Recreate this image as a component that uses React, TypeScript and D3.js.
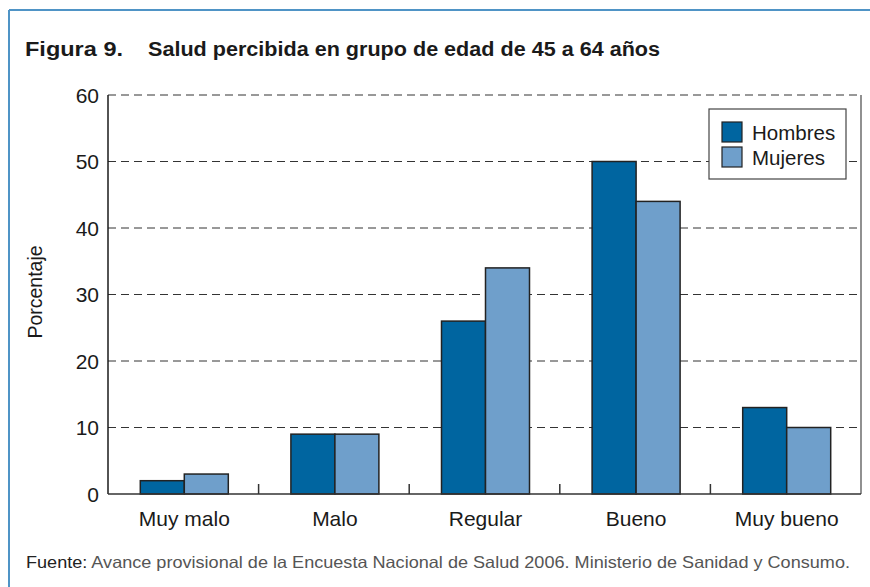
import React from "react";
import * as d3 from "d3";

const categories = ["Muy malo", "Malo", "Regular", "Bueno", "Muy bueno"];
const seriesNames = ["Hombres", "Mujeres"];
const hombres = [2, 9, 26, 50, 13];
const mujeres = [3, 9, 34, 44, 10];
const yTicks = [0, 10, 20, 30, 40, 50, 60];
const colors = ["#0065a0", "#6f9fcb"];

const W = 870, H = 587;
const m = { left: 108, right: 861, top: 95, bottom: 494 };

export default function App() {
  const x = d3.scaleBand<string>().domain(categories).range([m.left, m.right]).padding(0);
  const y = d3.scaleLinear().domain([0, 60]).range([m.bottom, m.top]);
  const bw = 44;
  const series = [hombres, mujeres];
  const font = "Liberation Sans, Arial, Helvetica, sans-serif";
  return (
    <svg width={W} height={H} style={{ position: "absolute", left: 0, top: 0, display: "block", background: "#fff" }} fontFamily={font}>
      {/* frame */}
      <line x1={9} y1={10} x2={W} y2={10} stroke="#4f94c6" strokeWidth={2} />
      <line x1={9} y1={10} x2={9} y2={H} stroke="#4f94c6" strokeWidth={2} />
      {/* title */}
      <text x={25} y={56} fontSize={20} fontWeight={900} fill="#1a1a1a" textLength={98} lengthAdjust="spacingAndGlyphs">Figura 9.</text>
      <text x={148} y={56} fontSize={19.5} fontWeight={700} fill="#1a1a1a" textLength={512} lengthAdjust="spacingAndGlyphs">Salud percibida en grupo de edad de 45 a 64 años</text>
      {/* gridlines */}
      {yTicks.filter(t => t > 0).map(t => (
        <line key={t} x1={m.left} x2={m.right} y1={y(t)} y2={y(t)} stroke="#333" strokeWidth={1} strokeDasharray="8,5" />
      ))}
      {/* right border */}
      <line x1={m.right} x2={m.right} y1={m.top} y2={m.bottom} stroke="#555" strokeWidth={1.3} />
      {/* bars */}
      {categories.map((c, i) => {
        const cx = (x(c) as number) + x.bandwidth() / 2 + 1;
        return series.map((s, j) => (
          <rect key={c + j} x={cx - bw + j * bw} y={y(s[i])} width={bw} height={y(0) - y(s[i])}
            fill={colors[j]} stroke="#222" strokeWidth={1.5} />
        ));
      })}
      {/* axes */}
      <line x1={m.left} x2={m.left} y1={m.top} y2={m.bottom} stroke="#1a1a1a" strokeWidth={1.5} />
      <line x1={m.left} x2={m.right} y1={m.bottom} y2={m.bottom} stroke="#333" strokeWidth={1.5} />
      {categories.slice(1).map(c => (
        <line key={c} x1={x(c)} x2={x(c)} y1={m.bottom} y2={m.bottom - 10} stroke="#333" strokeWidth={1.5} />
      ))}
      {yTicks.map(t => (
        <text key={t} x={99} y={y(t) + 7.5} fontSize={21} textAnchor="end" fill="#1a1a1a">{t}</text>
      ))}
      {categories.map(c => (
        <text key={c} x={(x(c) as number) + x.bandwidth() / 2 + 1} y={526} fontSize={21} textAnchor="middle" fill="#1a1a1a">{c}</text>
      ))}
      <text transform={`translate(42,${292}) rotate(-90)`} fontSize={19.5} textAnchor="middle" fill="#1a1a1a">Porcentaje</text>
      {/* legend */}
      <rect x={709} y={109} width={137} height={70} fill="#fff" stroke="#444" strokeWidth={1.2} />
      {seriesNames.map((n, j) => (
        <g key={n}>
          <rect x={722} y={122 + j * 25} width={20} height={20} fill={colors[j]} stroke="#222" strokeWidth={1.2} />
          <text x={752} y={140 + j * 25} fontSize={20.5} fill="#1a1a1a">{n}</text>
        </g>
      ))}
      {/* source */}
      <text x={26} y={568} fontSize={16.5} fill="#333" textLength={824} lengthAdjust="spacingAndGlyphs">
        <tspan fill="#222">Fuente:</tspan>
        <tspan fill="#555"> Avance provisional de la Encuesta Nacional de Salud 2006. Ministerio de Sanidad y Consumo.</tspan>
      </text>
    </svg>
  );
}
